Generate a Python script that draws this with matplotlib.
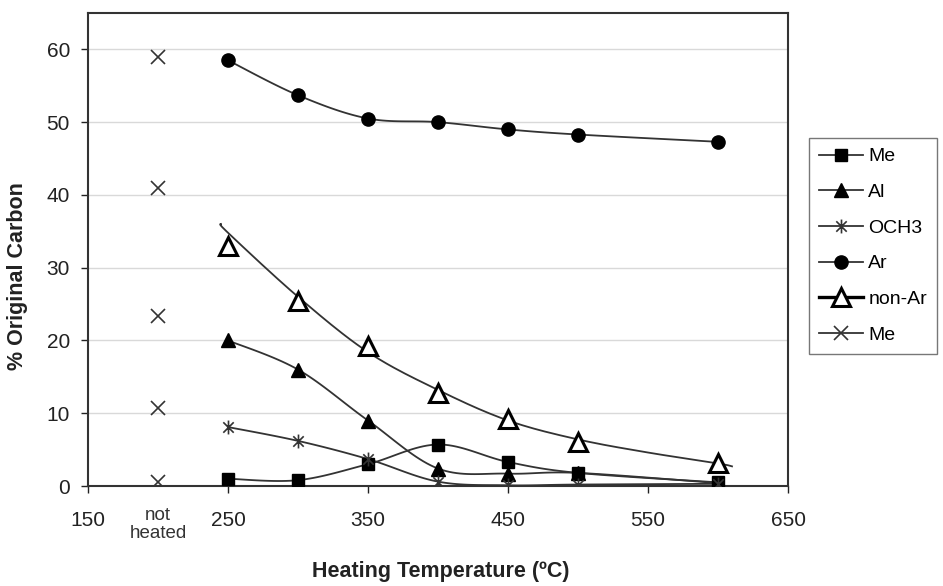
import numpy as np
import matplotlib
matplotlib.use("Agg")
import matplotlib.pyplot as plt
from matplotlib.path import Path
from matplotlib.lines import Line2D

plt.rcParams["font.family"] = ["Liberation Sans", "DejaVu Sans"]

# heated samples
temps = [250, 300, 350, 400, 450, 500, 600]
me = [1.0, 0.8, 3.0, 5.7, 3.3, 1.8, 0.5]
al = [20.0, 16.0, 9.0, 2.4, 1.7, 1.8, 0.4]
och3 = [8.1, 6.2, 3.7, 0.6, 0.1, 0.2, 0.3]
ar = [58.5, 53.7, 50.5, 50.0, 49.0, 48.3, 47.3]
non_ar = [33.0, 25.4, 19.2, 12.8, 9.2, 6.0, 3.2]

# trend line drawn through the non-Ar points
trend_x = [245, 250, 300, 350, 400, 450, 500, 550, 600, 610]
trend_y = [36.0, 34.8, 26.0, 18.4, 13.2, 9.0, 6.4, 4.6, 3.1, 2.7]

# unheated sample
unheated_x = [200, 200, 200, 200, 200]
unheated_y = [59.0, 41.0, 23.3, 10.7, 0.6]

xticks = [150, 250, 350, 450, 550, 650]
yticks = [0, 10, 20, 30, 40, 50, 60]


def smooth(x, y, n=20):
    # catmull-rom style smoothing like Excel's "smoothed line"
    p = np.column_stack([x, y]).astype(float)
    p = np.vstack([p[0], p, p[-1]])
    out = []
    t = np.linspace(0, 1, n)[:, None]
    for i in range(1, len(p) - 2):
        p0, p1, p2, p3 = p[i - 1], p[i], p[i + 1], p[i + 2]
        seg = 0.5 * ((2 * p1) + (-p0 + p2) * t
                     + (2 * p0 - 5 * p1 + 4 * p2 - p3) * t ** 2
                     + (-p0 + 3 * p1 - 3 * p2 + p3) * t ** 3)
        out.append(seg)
    out = np.vstack(out)
    return out[:, 0], out[:, 1]


star = Path([(0, -1), (0, 1), (-0.75, -0.75), (0.75, 0.75), (-0.75, 0.75), (0.75, -0.75)],
            [Path.MOVETO, Path.LINETO, Path.MOVETO, Path.LINETO, Path.MOVETO, Path.LINETO])

lc = "#333333"
fig = plt.figure(figsize=(9.43, 5.86), dpi=100)
ax = fig.add_axes([88 / 943, 1 - 486 / 586, 700 / 943, 473 / 586])

for ys in [me, al, och3, ar]:
    sx, sy = smooth(temps, ys)
    ax.plot(sx, sy, color=lc, lw=1.3, zorder=2)
sx, sy = smooth(trend_x, trend_y)
ax.plot(sx, sy, color=lc, lw=1.3, zorder=2)

ax.plot(temps, me, ls="none", marker="s", ms=8.5, color="black", zorder=3)
ax.plot(temps, al, ls="none", marker="^", ms=9.5, color="black", zorder=3)
ax.plot(temps, och3, ls="none", marker=star, ms=10, mew=1.2, color=lc, zorder=3)
ax.plot(temps, ar, ls="none", marker="o", ms=9.5, color="black", zorder=3)
ax.plot(temps, non_ar, ls="none", marker="^", ms=13, mfc="white", mec="black", mew=2.2, zorder=4)
ax.plot(unheated_x, unheated_y, ls="none", marker="x", ms=10, mew=1.2, color=lc, zorder=3)

ax.set_xlim(150, 650)
ax.set_ylim(0, 65)
ax.set_xticks(xticks)
ax.set_yticks(yticks)
ax.tick_params(direction="out", length=5, width=1, labelsize=15, colors="#222222")
ax.tick_params(axis="x", pad=13)
ax.tick_params(axis="y", pad=8)
ax.grid(axis="y", color="#d9d9d9", lw=1)
ax.set_axisbelow(True)
for s in ax.spines.values():
    s.set_linewidth(1.5)
    s.set_color("#333333")

ax.text(200, -2.9, "not\nheated", ha="center", va="top", fontsize=13.5, color="#333333",
        linespacing=1.05)

fig.text(441 / 943, 1 - 572 / 586, "Heating Temperature (ºC)", ha="center", va="center",
         fontsize=15.5, fontweight="bold", color="#222222")
fig.text(18 / 943, 1 - 276 / 586, "% Original Carbon", ha="center", va="center",
         rotation=90, fontsize=15.5, fontweight="bold", color="#222222")

handles = [
    Line2D([], [], color=lc, lw=1.3, marker="s", ms=8.5, mfc="black", mec="black"),
    Line2D([], [], color=lc, lw=1.3, marker="^", ms=9.5, mfc="black", mec="black"),
    Line2D([], [], color=lc, lw=1.3, marker=star, ms=10, mew=1.2, mec=lc),
    Line2D([], [], color=lc, lw=1.3, marker="o", ms=9.5, mfc="black", mec="black"),
    Line2D([], [], color="black", lw=2.4, marker="^", ms=13, mfc="white", mec="black", mew=2.2),
    Line2D([], [], color=lc, lw=1.3, marker="x", ms=10, mew=1.2, mec=lc),
]
labels = ["Me", "Al", "OCH3", "Ar", "non-Ar", "Me"]
leg = fig.legend(handles, labels, loc="upper left", bbox_to_anchor=(809 / 943, 1 - 138 / 586),
                 fontsize=14, frameon=True, fancybox=False, edgecolor="#555555",
                 handlelength=2.3, handletextpad=0.25, labelspacing=0.93, borderpad=0.5,
                 borderaxespad=0)
leg.get_frame().set_linewidth(1.0)

plt.savefig("out.png", dpi=100)
plt.close()
